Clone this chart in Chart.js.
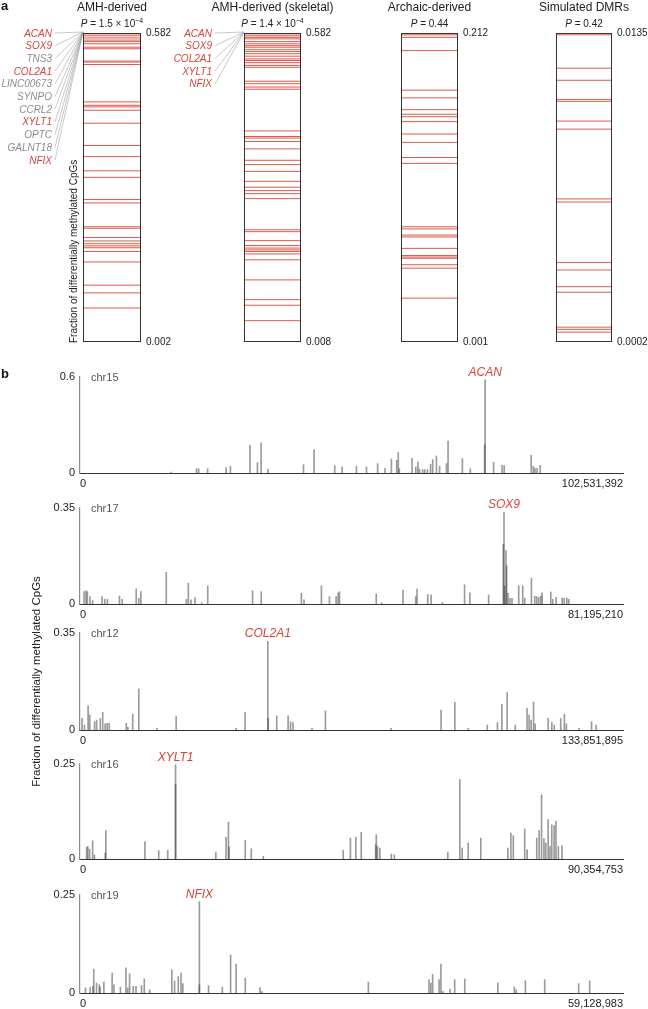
<!DOCTYPE html>
<html>
<head>
<meta charset="utf-8">
<title>Differentially methylated CpGs</title>
<script src="https://cdn.jsdelivr.net/npm/chart.js@4.4.1/dist/chart.umd.min.js"></script>
<style>
  html, body { margin: 0; padding: 0; background: #fff; }
  #fig { position: relative; width: 648px; height: 1009px; overflow: hidden;
         font-family: "Liberation Sans", Arial, Helvetica, sans-serif; }
  #fig canvas { position: absolute; }
  #overlay { position: absolute; left: 0; top: 0; pointer-events: none; }
</style>
</head>
<body>
<div id="fig">
  <canvas id="rankAmh"></canvas>
  <canvas id="rankSkeletal"></canvas>
  <canvas id="rankArchaic"></canvas>
  <canvas id="rankSimulated"></canvas>
  <canvas id="chr15Chart"></canvas>
  <canvas id="chr17Chart"></canvas>
  <canvas id="chr12Chart"></canvas>
  <canvas id="chr16Chart"></canvas>
  <canvas id="chr19Chart"></canvas>
  <svg id="overlay" width="648" height="1009" xmlns="http://www.w3.org/2000/svg"></svg>
</div>
<script>
// ---- panel a: rank position of each DMR (0 = top of the ranking, 1 = bottom)
const panelTitles = ['AMH-derived', 'AMH-derived (skeletal)', 'Archaic-derived', 'Simulated DMRs'];
const pValueText = ['1.5 × 10', '1.4 × 10', '0.44', '0.42'];
const pValueExp = ['−4', '−4', '', ''];
const rankTopLabels = ['0.582', '0.582', '0.212', '0.0135'];
const rankBottomLabels = ['0.002', '0.008', '0.001', '0.0002'];

const amhRanks = [0.003, 0.009, 0.016, 0.023, 0.028, 0.035, 0.046, 0.051, 0.091, 0.094, 0.102,
  0.223, 0.234, 0.239, 0.250, 0.292, 0.364, 0.400, 0.446, 0.467, 0.539, 0.550, 0.627, 0.632,
  0.662, 0.673, 0.682, 0.689, 0.695, 0.707, 0.741, 0.816, 0.841, 0.890];
const skeletalRanks = [0.003, 0.009, 0.014, 0.019, 0.028, 0.035, 0.041, 0.046, 0.054, 0.060, 0.067,
  0.075, 0.084, 0.089, 0.096, 0.105, 0.111, 0.156, 0.164, 0.175, 0.182, 0.317, 0.335, 0.340,
  0.351, 0.375, 0.412, 0.426, 0.448, 0.480, 0.499, 0.510, 0.520, 0.536, 0.637, 0.643, 0.672,
  0.688, 0.696, 0.702, 0.707, 0.715, 0.734, 0.799, 0.863, 0.881, 0.931];
const archaicRanks = [0.002, 0.006, 0.014, 0.057, 0.185, 0.210, 0.248, 0.263, 0.271, 0.287, 0.327,
  0.354, 0.403, 0.422, 0.627, 0.634, 0.654, 0.660, 0.697, 0.720, 0.725, 0.729, 0.750, 0.761, 0.858];
const simulatedRanks = [0.006, 0.114, 0.153, 0.215, 0.221, 0.285, 0.311, 0.537, 0.547, 0.743,
  0.767, 0.821, 0.839, 0.952, 0.959, 0.968];

const amhGenes = ['ACAN', 'SOX9', 'TNS3', 'COL2A1', 'LINC00673', 'SYNPO', 'CCRL2', 'XYLT1', 'OPTC', 'GALNT18', 'NFIX'];
const skeletalGenes = ['ACAN', 'SOX9', 'COL2A1', 'XYLT1', 'NFIX'];

// ---- panel b: DMR positions (Mb) and fraction of differentially methylated CpGs
const chrNames = ['chr15', 'chr17', 'chr12', 'chr16', 'chr19'];
const chrLengths = [102531392, 81195210, 133851895, 90354753, 59128983];
const chrYMax = [0.6, 0.35, 0.35, 0.25, 0.25];
const chrGenes = ['ACAN', 'SOX9', 'COL2A1', 'XYLT1', 'NFIX'];

const chr15Pos = [17.2, 22.0, 22.4, 24.1, 27.6, 28.4, 32.1, 33.5, 34.2, 35.5, 42.2, 44.2, 48.1, 49.5,
  52.2, 54.1, 56.2, 57.6, 58.8, 59.8, 60.1, 60.3, 62.7, 63.4, 63.8, 64.1, 64.7, 65.1, 65.6, 66.2,
  66.6, 67.3, 67.9, 69.2, 69.5, 72.2, 73.7, 76.4, 76.5, 78.1, 79.7, 80.1, 85.2, 85.6, 85.9, 86.3, 86.9];
const chr15Frac = [0.006, 0.027, 0.027, 0.027, 0.034, 0.042, 0.174, 0.065, 0.189, 0.025, 0.052, 0.147,
  0.046, 0.038, 0.042, 0.038, 0.059, 0.029, 0.088, 0.080, 0.128, 0.027, 0.092, 0.038, 0.069, 0.025,
  0.021, 0.021, 0.021, 0.055, 0.084, 0.107, 0.042, 0.059, 0.199, 0.090, 0.027, 0.176, 0.582, 0.067,
  0.048, 0.046, 0.111, 0.042, 0.029, 0.029, 0.048];

const chr17Pos = [0.6, 0.9, 1.1, 1.5, 1.9, 3.3, 3.7, 4.1, 5.9, 6.3, 8.4, 8.8, 9.1, 12.9, 15.9, 16.2,
  16.6, 17.2, 18.2, 19.1, 25.8, 27.1, 33.1, 33.5, 36.1, 37.3, 38.3, 38.6, 38.8, 44.3, 45.1, 48.3,
  50.2, 50.4, 52.0, 52.5, 54.2, 57.5, 58.3, 61.1, 63.3, 63.4, 63.5, 63.7, 63.8, 64.0, 64.3, 64.6,
  65.6, 66.2, 66.5, 67.5, 68.0, 68.3, 68.6, 68.9, 69.1, 70.4, 70.7, 71.2, 72.1, 72.4, 72.8, 73.1];
const chr17Frac = [0.045, 0.048, 0.045, 0.027, 0.012, 0.027, 0.018, 0.017, 0.029, 0.017, 0.055, 0.021,
  0.045, 0.115, 0.017, 0.076, 0.015, 0.023, 0.005, 0.066, 0.048, 0.045, 0.039, 0.015, 0.066, 0.027,
  0.027, 0.041, 0.045, 0.037, 0.005, 0.051, 0.027, 0.054, 0.035, 0.033, 0.005, 0.070, 0.041, 0.033,
  0.218, 0.334, 0.066, 0.195, 0.139, 0.039, 0.021, 0.021, 0.066, 0.066, 0.021, 0.094, 0.029, 0.027,
  0.024, 0.029, 0.041, 0.044, 0.017, 0.024, 0.022, 0.021, 0.022, 0.017];

const chr12Pos = [0.5, 1.1, 2.0, 2.4, 3.6, 4.1, 5.0, 5.6, 6.2, 6.7, 7.2, 11.4, 11.8, 13.0, 14.5, 19.0,
  23.7, 38.5, 40.7, 46.3, 46.4, 48.5, 51.3, 51.9, 52.5, 57.2, 60.5, 76.7, 89.0, 92.4, 95.7, 100.4,
  102.9, 104.0, 105.3, 107.3, 110.2, 110.7, 111.2, 111.8, 112.2, 115.4, 116.3, 116.9, 118.5, 119.4,
  119.9, 123.0, 126.1, 127.2];
const chr12Frac = [0.042, 0.018, 0.087, 0.054, 0.030, 0.036, 0.042, 0.064, 0.022, 0.024, 0.024, 0.024,
  0.010, 0.057, 0.148, 0.006, 0.048, 0.006, 0.064, 0.320, 0.042, 0.051, 0.051, 0.030, 0.027, 0.006,
  0.069, 0.006, 0.072, 0.100, 0.006, 0.018, 0.027, 0.093, 0.135, 0.018, 0.078, 0.054, 0.036, 0.101,
  0.022, 0.042, 0.027, 0.018, 0.042, 0.057, 0.022, 0.006, 0.030, 0.018];

const chr16Pos = [1.1, 1.3, 1.6, 2.1, 2.4, 4.2, 4.3, 10.8, 13.1, 14.6, 15.9, 15.9, 22.6, 24.3, 24.7,
  24.8, 27.5, 28.5, 30.5, 43.8, 45.0, 45.9, 46.8, 49.2, 49.3, 49.5, 49.9, 51.8, 52.3, 61.2, 63.2,
  63.6, 64.6, 66.7, 71.2, 71.7, 72.1, 74.0, 74.4, 76.0, 76.4, 76.8, 77.2, 77.5, 77.9, 78.2, 78.5,
  78.9, 79.2, 79.6, 80.2];
const chr16Frac = [0.031, 0.033, 0.026, 0.048, 0.011, 0.016, 0.075, 0.046, 0.022, 0.023, 0.248, 0.196,
  0.018, 0.057, 0.097, 0.033, 0.049, 0.027, 0.007, 0.023, 0.055, 0.058, 0.070, 0.038, 0.064, 0.033,
  0.029, 0.013, 0.011, 0.018, 0.209, 0.029, 0.042, 0.055, 0.029, 0.068, 0.061, 0.079, 0.025, 0.055,
  0.075, 0.169, 0.054, 0.042, 0.104, 0.033, 0.090, 0.088, 0.099, 0.033, 0.035];

const chr19Pos = [0.6, 1.1, 1.4, 1.5, 1.8, 2.1, 2.2, 2.6, 3.5, 3.7, 4.4, 5.0, 5.2, 5.4, 5.8, 6.1, 6.7,
  7.0, 7.6, 10.0, 10.3, 10.7, 11.0, 11.2, 13.0, 13.0, 14.0, 15.5, 16.4, 17.0, 18.0, 19.6, 19.8, 31.4,
  38.0, 38.2, 38.4, 39.1, 39.3, 39.5, 40.3, 40.8, 41.9, 45.5, 47.3, 47.5, 48.5, 50.6, 54.3, 55.5];
const chr19Frac = [0.013, 0.014, 0.017, 0.061, 0.025, 0.021, 0.015, 0.028, 0.051, 0.021, 0.015, 0.064,
  0.013, 0.049, 0.017, 0.017, 0.019, 0.036, 0.008, 0.059, 0.031, 0.042, 0.051, 0.024, 0.233, 0.021,
  0.019, 0.015, 0.097, 0.074, 0.038, 0.014, 0.004, 0.028, 0.034, 0.025, 0.047, 0.034, 0.074, 0.004,
  0.010, 0.034, 0.036, 0.025, 0.015, 0.008, 0.031, 0.034, 0.024, 0.031];

document.addEventListener('DOMContentLoaded', function() {
    const fontFamily = '"Liberation Sans", Arial, Helvetica, sans-serif';
    const red = '#d5443a';
    const textColor = '#222';
    Chart.defaults.font.family = fontFamily;

    // layout of the four rank boxes (pixels)
    const rankBoxes = [
        { left: 83, width: 58 }, { left: 244, width: 57 },
        { left: 401, width: 57 }, { left: 556, width: 56 }
    ];
    const boxTop = 32, boxHeight = 311;

    const boxFramePlugin = {
        id: 'boxFrame',
        afterDraw(chart) {
            const { left, top, right, bottom } = chart.chartArea;
            const ctx = chart.ctx;
            ctx.save();
            ctx.strokeStyle = '#333';
            ctx.lineWidth = 1;
            ctx.strokeRect(Math.round(left) + 0.5, Math.round(top) + 0.5,
                Math.round(right - left) - 1, Math.round(bottom - top) - 1);
            ctx.restore();
        }
    };

    function initializeRankChart(id, ranks, index) {
        const box = rankBoxes[index];
        const canvas = document.getElementById(id);
        canvas.width = box.width + 2 + 45;
        canvas.height = boxHeight + 20;
        canvas.style.left = (box.left - 2) + 'px';
        canvas.style.top = (boxTop - 10) + 'px';

        new Chart(canvas, {
            type: 'scatter',
            data: {
                datasets: [{
                    data: ranks.map(r => ({ x: 0.5, y: r })),
                    pointStyle: 'line',
                    pointRadius: box.width / 2 - 0.5,
                    pointBorderColor: '#dd5a4c',
                    pointBackgroundColor: '#dd5a4c',
                    pointBorderWidth: 1,
                    clip: false
                }]
            },
            options: {
                responsive: false,
                animation: false,
                events: [],
                layout: { autoPadding: false, padding: { left: 2, right: 0, top: 10, bottom: 10 } },
                plugins: { legend: { display: false }, tooltip: { enabled: false } },
                scales: {
                    x: { display: false, min: 0, max: 1 },
                    y: {
                        position: 'right',
                        reverse: true,
                        min: 0,
                        max: 1,
                        grid: { display: false, drawTicks: false },
                        border: { display: false },
                        ticks: {
                            padding: 5,
                            color: textColor,
                            font: { size: 10 },
                            callback: v => (v === 0 ? rankTopLabels[index] : rankBottomLabels[index])
                        },
                        afterBuildTicks: s => { s.ticks = [{ value: 0 }, { value: 1 }]; },
                        afterFit: s => { s.width = 45; }
                    }
                }
            },
            plugins: [boxFramePlugin]
        });
    }

    // chromosome name and gene label above the highest bar
    const chromLabelPlugin = {
        id: 'chromLabel',
        afterDraw(chart, args, opts) {
            const ctx = chart.ctx;
            const area = chart.chartArea;
            ctx.save();
            ctx.font = '11px ' + fontFamily;
            ctx.fillStyle = '#555';
            ctx.textBaseline = 'middle';
            ctx.textAlign = 'left';
            ctx.fillText(opts.name, area.left + 11, area.top + 1);

            const values = chart.data.datasets[0].data;
            let best = 0;
            values.forEach((d, i) => { if (d.y > values[best].y) best = i; });
            const bar = chart.getDatasetMeta(0).data[best];
            ctx.font = 'italic 12px ' + fontFamily;
            ctx.fillStyle = red;
            ctx.textAlign = 'center';
            ctx.textBaseline = 'alphabetic';
            ctx.fillText(opts.gene, bar.x, bar.y - 4);
            ctx.restore();
        }
    };

    const chromLayout = [
        { top: 377, height: 96 }, { top: 508, height: 96 }, { top: 633, height: 97 },
        { top: 764, height: 95 }, { top: 895, height: 98 }
    ];

    function initializeChromChart(id, index, positions, fractions) {
        const lay = chromLayout[index];
        const lengthMb = chrLengths[index] / 1e6;
        const yMax = chrYMax[index];
        const canvas = document.getElementById(id);
        canvas.width = 648;
        canvas.height = 20 + lay.height + 18;
        canvas.style.left = '0px';
        canvas.style.top = (lay.top - 20) + 'px';

        new Chart(canvas, {
            type: 'bar',
            data: {
                datasets: [{
                    data: positions.map((p, i) => ({ x: p, y: fractions[i] })),
                    backgroundColor: 'rgba(45,45,45,0.48)',
                    borderWidth: 0,
                    barThickness: 1
                }]
            },
            options: {
                responsive: false,
                animation: false,
                events: [],
                layout: { padding: { left: 0, right: 25, top: 20, bottom: 0 } },
                plugins: {
                    legend: { display: false },
                    tooltip: { enabled: false },
                    chromLabel: { name: chrNames[index], gene: chrGenes[index] }
                },
                scales: {
                    x: {
                        type: 'linear',
                        min: 0,
                        max: lengthMb,
                        offset: false,
                        grid: { display: false, drawTicks: false },
                        border: { color: '#333', width: 1 },
                        ticks: {
                            align: 'inner',
                            padding: 4,
                            maxRotation: 0,
                            autoSkip: false,
                            color: textColor,
                            font: { size: 11 },
                            callback: v => (v === 0 ? '0' : chrLengths[index].toLocaleString('en-US'))
                        },
                        afterBuildTicks: s => { s.ticks = [{ value: 0 }, { value: lengthMb }]; },
                        afterFit: s => { s.height = 18; }
                    },
                    y: {
                        min: 0,
                        max: yMax,
                        grid: { display: false, drawTicks: false },
                        border: { color: '#8a8a8a', width: 1.2 },
                        ticks: {
                            padding: 5,
                            color: textColor,
                            font: { size: 11 },
                            callback: v => (v === 0 ? '0' : String(yMax))
                        },
                        afterBuildTicks: s => { s.ticks = [{ value: 0 }, { value: yMax }]; },
                        afterFit: s => { s.width = 80; }
                    }
                }
            },
            plugins: [chromLabelPlugin]
        });
    }

    // text overlay: titles, P values, gene leaders, axis titles
    function buildOverlay() {
        let svg = '';
        const common = `font-family='${fontFamily}'`;
        panelTitles.forEach((t, i) => {
            const cx = rankBoxes[i].left + rankBoxes[i].width / 2;
            svg += `<text ${common} x="${cx}" y="11" font-size="12" text-anchor="middle" fill="${textColor}">${t}</text>`;
            const exp = pValueExp[i] ? `<tspan dy="-4" font-size="7">${pValueExp[i]}</tspan>` : '';
            svg += `<text ${common} x="${cx}" y="27" font-size="10" text-anchor="middle" fill="${textColor}">` +
                   `<tspan font-style="italic">P</tspan> = ${pValueText[i]}${exp}</text>`;
        });

        function leaders(genes, rightX, box) {
            genes.forEach((g, i) => {
                const y = 33 + i * 12.7;
                const col = skeletalGenes.includes(g) ? red : '#8c8c8c';
                svg += `<line x1="${rightX + 3}" y1="${y}" x2="${box.left}" y2="${boxTop}" stroke="#a3a3a3" stroke-width="0.6"/>`;
                svg += `<text ${common} x="${rightX}" y="${y + 3.5}" font-size="10" font-style="italic" text-anchor="end" fill="${col}">${g}</text>`;
            });
        }
        leaders(amhGenes, 52, rankBoxes[0]);
        leaders(skeletalGenes, 212, rankBoxes[1]);

        svg += `<text ${common} x="1" y="10" font-size="13" font-weight="bold" fill="#111">a</text>`;
        svg += `<text ${common} x="1" y="378" font-size="13" font-weight="bold" fill="#111">b</text>`;
        svg += `<text ${common} transform="translate(77,343) rotate(-90)" font-size="10" fill="${textColor}">Fraction of differentially methylated CpGs</text>`;
        svg += `<text ${common} transform="translate(40,681.5) rotate(-90)" font-size="11.5" text-anchor="middle" fill="${textColor}">Fraction of differentially methylated CpGs</text>`;
        document.getElementById('overlay').innerHTML = svg;
    }

    try {
        initializeRankChart('rankAmh', amhRanks, 0);
        initializeRankChart('rankSkeletal', skeletalRanks, 1);
        initializeRankChart('rankArchaic', archaicRanks, 2);
        initializeRankChart('rankSimulated', simulatedRanks, 3);

        initializeChromChart('chr15Chart', 0, chr15Pos, chr15Frac);
        initializeChromChart('chr17Chart', 1, chr17Pos, chr17Frac);
        initializeChromChart('chr12Chart', 2, chr12Pos, chr12Frac);
        initializeChromChart('chr16Chart', 3, chr16Pos, chr16Frac);
        initializeChromChart('chr19Chart', 4, chr19Pos, chr19Frac);

        buildOverlay();
    } catch (error) {
        console.error('Error drawing the figure:', error);
    }
});
</script>
</body>
</html>
